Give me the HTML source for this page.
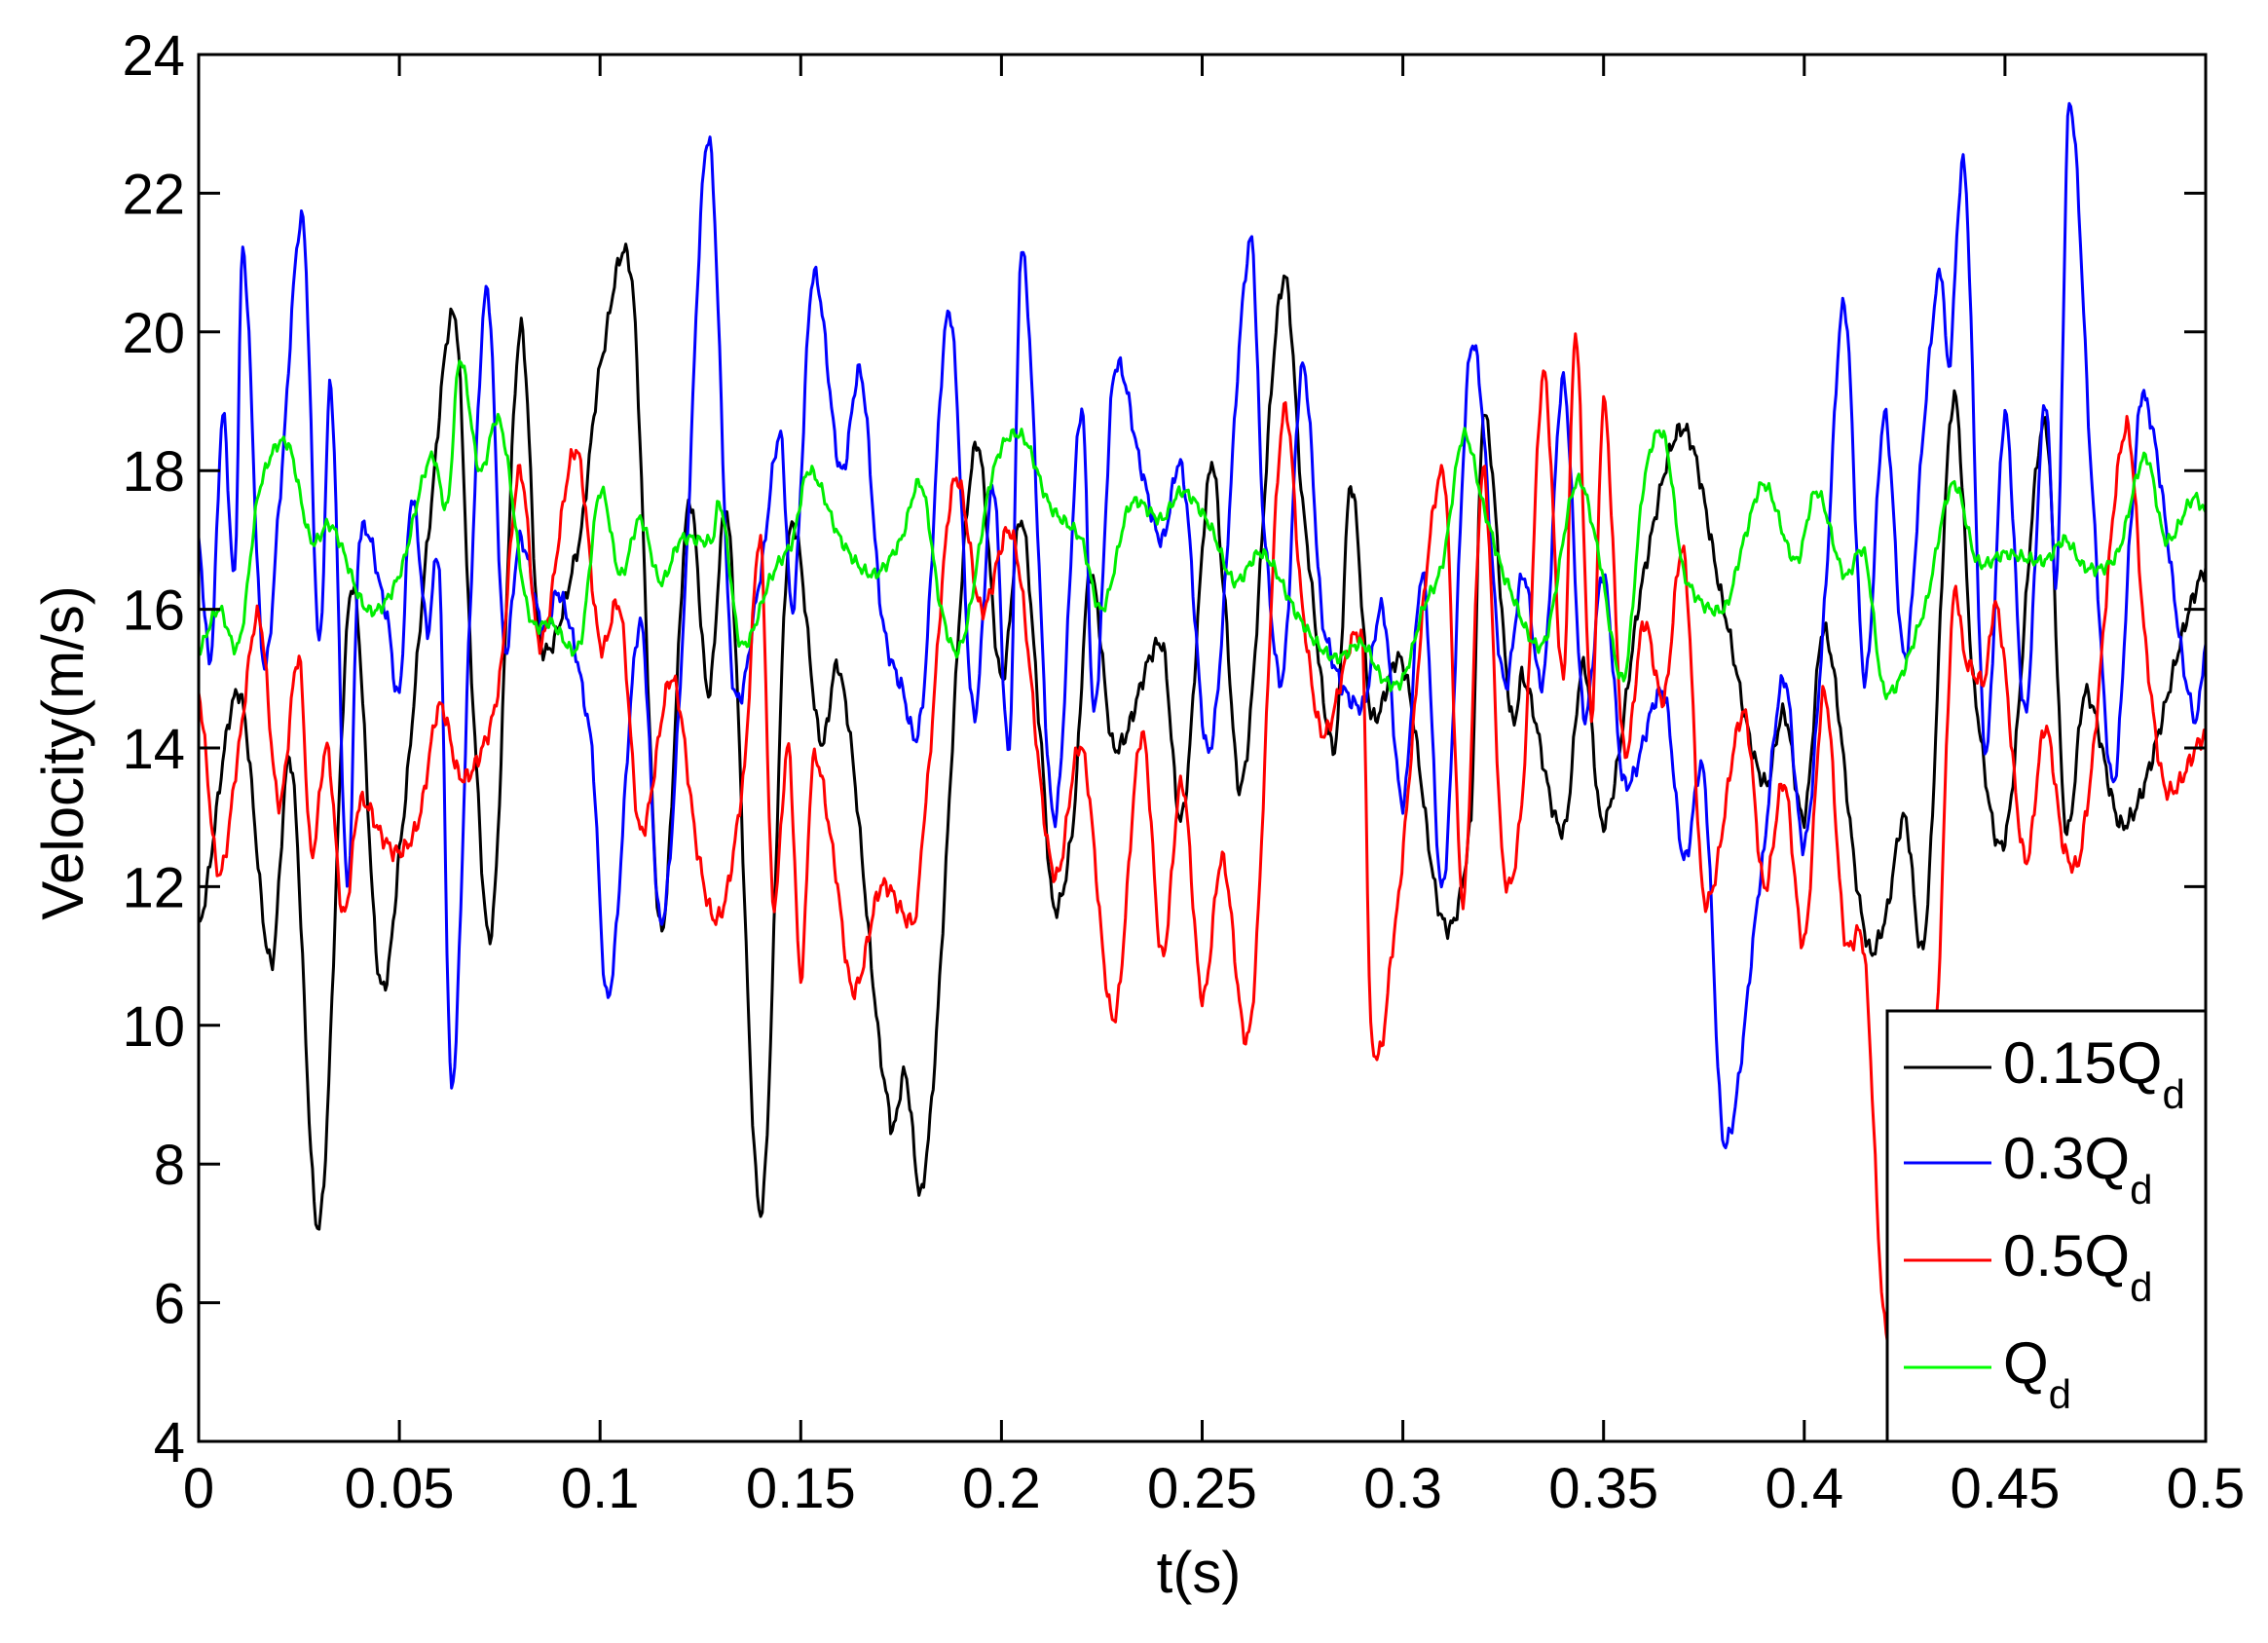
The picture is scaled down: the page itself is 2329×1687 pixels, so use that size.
<!DOCTYPE html>
<html><head><meta charset="utf-8"><style>
html,body{margin:0;padding:0;background:#fff;}
svg{display:block;font-family:"Liberation Sans",Arial,sans-serif;}
</style></head><body>
<svg id="s" width="2329" height="1687" viewBox="0 0 2329 1687" xmlns="http://www.w3.org/2000/svg">
<rect width="2329" height="1687" fill="#fff"/>
<g id="series" fill="none" stroke-width="3" stroke-linejoin="round"></g>
<g id="axes" stroke="#000" stroke-width="3" fill="none"></g>
<g id="labels" font-size="58" fill="#000"></g>
<text x="1231" y="1635" font-size="60" text-anchor="middle">t(s)</text>
<text transform="translate(85,773) rotate(-90)" font-size="60" text-anchor="middle">Velocity(m/s)</text>
<g id="legend">
<rect x="1938" y="1038" width="327" height="442" fill="#fff" stroke="#000" stroke-width="3"/>
<line x1="1955" y1="1096" x2="2045" y2="1096" stroke="#000" stroke-width="3"/>
<line x1="1955" y1="1194" x2="2045" y2="1194" stroke="#0000ff" stroke-width="3"/>
<line x1="1955" y1="1294" x2="2045" y2="1294" stroke="#ff0000" stroke-width="3"/>
<line x1="1955" y1="1404" x2="2045" y2="1404" stroke="#00ff00" stroke-width="3"/>
<text x="2057" y="1112" font-size="60">0.15Q<tspan font-size="42" dy="26">d</tspan></text>
<text x="2057" y="1210" font-size="60">0.3Q<tspan font-size="42" dy="26">d</tspan></text>
<text x="2057" y="1310" font-size="60">0.5Q<tspan font-size="42" dy="26">d</tspan></text>
<text x="2057" y="1420" font-size="60">Q<tspan font-size="42" dy="26">d</tspan></text>
</g>
</svg>
<script>
var L=204,R=2265,T=56,B=1480;
function X(t){return L+t*(R-L)/0.5;}
function Y(v){return B-(v-4)*(B-T)/20;}
var NS="http://www.w3.org/2000/svg";
var ax=document.getElementById('axes'), lab=document.getElementById('labels');
function el(p,n,a){var e=document.createElementNS(NS,n);for(var k in a)e.setAttribute(k,a[k]);p.appendChild(e);return e;}
el(ax,'rect',{x:L,y:T,width:R-L,height:B-T});
for(var v=4;v<=24;v+=2){var y=Y(v);
 el(ax,'line',{x1:L,y1:y,x2:L+22,y2:y});el(ax,'line',{x1:R,y1:y,x2:R-22,y2:y});
 var t=el(lab,'text',{x:190,y:y+21,'text-anchor':'end'});t.textContent=v;}
for(var i=0;i<=10;i++){var x=X(i*0.05);
 el(ax,'line',{x1:x,y1:B,x2:x,y2:B-22});el(ax,'line',{x1:x,y1:T,x2:x,y2:T+22});
 var t=el(lab,'text',{x:x,y:1548,'text-anchor':'middle'});t.textContent=(i==0?'0':(i==10?'0.5':String(+(i*0.05).toFixed(2))));}
function P(a){var r=[];for(var i=0;i<a.length;i+=2)r.push([a[i],a[i+1]]);return r;}
var black=P([0,11.4,.01,14.8,.018,10.9,.023,13.8,.03,7.1,.038,16.3,.045,10.7,.05,12.5,.058,17.5,.064,20.2,.068,15,.073,11.4,.08,20,.085,15.5,.095,17,.1,19.5,.108,20.7,.115,11.4,.122,17.5,.127,14.8,.132,17.2,.14,7.3,.147,17,.155,14.1,.16,15,.172,8.8,.176,9.3,.181,8,.193,18.2,.2,15,.205,17.3,.21,14,.213,11.7,.218,13,.222,16.5,.228,14,.24,15.5,.245,13,.252,18,.255,16.5,.26,13.5,.27,20.7,.275,17.5,.283,14,.287,17.8,.292,14.5,.3,15.2,.31,11.5,.317,13,.32,18.8,.327,14.5,.33,15,.34,12.8,.345,15.2,.35,12.9,.36,16.5,.37,18.6,.38,16,.39,13.5,.395,14.5,.4,13,.405,15.7,.415,11.4,.42,11.5,.425,13,.43,11.3,.437,19,.442,15,.45,12.7,.46,18.7,.465,12.9,.47,14.8,.48,12.9,.5,16.6]);
var blue=P([0,17,.003,15.3,.006,18.8,.009,16.5,.011,21.2,.016,15.3,.02,17.5,.026,21.6,.03,15.5,.033,19.2,.037,12,.04,17,.047,15.9,.05,14.8,.053,17.6,.057,15.7,.06,16.5,.063,9.1,.068,16.5,.072,20.6,.076,15.5,.08,17,.086,15.7,.09,16.2,.098,14,.102,10.4,.11,15.8,.115,11.5,.12,15,.127,22.8,.133,15,.14,16.5,.145,18.5,.148,16,.153,20.8,.16,18,.165,19.4,.17,16,.175,14.9,.18,14.5,.187,20.3,.193,14.5,.198,17.8,.202,14,.205,21.2,.213,13,.22,18.9,.223,14.5,.228,19.4,.235,18,.24,17,.245,18,.252,14,.262,21.3,.265,17.5,.27,15,.275,19.5,.28,15.8,.29,14.6,.295,16,.3,13.2,.305,16.5,.31,12,.317,19.8,.325,15,.33,16.5,.335,15,.34,19.3,.345,14.5,.35,16.5,.355,13.5,.365,14.8,.37,12.4,.375,13.6,.38,8.3,.39,12.5,.395,15,.4,12.6,.405,16,.41,20.4,.415,15,.42,18.8,.425,15.3,.43,18.8,.434,20.9,.436,19.5,.44,22.3,.445,14,.45,18.8,.455,14.5,.46,19,.463,16.5,.466,23.3,.472,17.5,.477,13.5,.482,17.7,.485,19,.497,14.5,.5,15.5]);
var red=P([0,14.8,.005,12.2,.01,14,.015,15.9,.02,13.2,.025,15.3,.028,12.5,.032,14,.036,11.6,.04,13.2,.046,12.7,.05,12.5,.055,13,.06,14.6,.065,13.6,.07,13.9,.075,15,.08,18,.085,15.5,.094,18.3,.1,15.5,.105,16,.11,12.8,.118,15,.125,12.3,.13,11.6,.136,13.7,.14,17,.143,11.8,.147,14,.15,10.7,.153,13.8,.158,12.5,.163,10.5,.17,12,.178,11.5,.18,12.6,.188,17.8,.195,16,.203,17,.213,12.2,.22,14,.228,10.1,.235,14.2,.24,11,.245,13.5,.25,10.4,.255,12.4,.262,10,.27,18.7,.275,16,.28,14.2,.29,15.5,.292,9.9,.297,11,.31,18,.315,11.8,.32,18,.325,12.3,.33,13.5,.335,19.4,.34,15,.343,20,.347,14.5,.35,19,.355,14,.36,15.8,.365,14.7,.37,16.8,.375,11.8,.385,14.5,.39,12,.395,13.5,.4,11.2,.405,14.8,.41,11.3,.415,11,.42,5.7,.426,7,.433,10,.437,16,.44,15.3,.445,15,.448,16,.455,12.4,.46,14.3,.465,12.5,.47,13,.48,18.6,.485,15.5,.49,13.4,.5,14.2]);
var green=P([0,15.4,.005,16,.01,15.5,.015,17.7,.022,18.4,.028,17,.033,17.2,.042,16,.05,16.5,.058,18.2,.062,17.5,.065,19.6,.07,18,.075,18.7,.082,16,.088,15.8,.095,15.5,.1,17.7,.105,16.5,.11,17.3,.115,16.4,.12,17,.128,17,.13,17.5,.135,15.5,.143,16.5,.148,17,.152,18,.16,17,.168,16.5,.175,17,.18,17.8,.185,16,.19,15.5,.198,18,.205,18.5,.212,17.5,.22,17,.225,16,.232,17.5,.24,17.3,.245,17.7,.252,17.2,.258,16.4,.265,16.8,.275,15.8,.283,15.3,.29,15.5,.295,15,.3,15,.305,16,.31,16.7,.315,18.5,.32,17.5,.325,16.5,.335,15.5,.343,17.8,.348,17,.355,15,.36,17.8,.365,18.5,.37,16.5,.38,16,.385,17,.39,17.8,.398,16.7,.403,17.7,.41,16.5,.415,16.8,.42,14.8,.43,16,.437,17.8,.443,16.7,.45,16.8,.46,16.7,.465,17,.47,16.6,.478,16.8,.485,18.2,.49,17,.497,17.6,.5,17.4]);
function path(pts,amp,seed){
 var d='',n=pts.length;
 for(var i=0;i<n-1;i++){
  var p0=pts[Math.max(0,i-1)],p1=pts[i],p2=pts[i+1],p3=pts[Math.min(n-1,i+2)];
  var steps=Math.max(2,Math.round((p2[0]-p1[0])/0.0004));
  for(var s=0;s<steps;s++){
   var u=s/steps,u2=u*u,u3=u2*u;
   var t=p1[0]+(p2[0]-p1[0])*u;
   var v=0.5*((2*p1[1])+(-p0[1]+p2[1])*u+(2*p0[1]-5*p1[1]+4*p2[1]-p3[1])*u2+(-p0[1]+3*p1[1]-3*p2[1]+p3[1])*u3);
   v+=amp*(Math.sin(t*2900+seed)*0.6+Math.sin(t*5300+seed*2)*0.4);
   d+=(d?'L':'M')+X(t).toFixed(1)+' '+Y(v).toFixed(1);
  }
 }
 var last=pts[n-1];d+='L'+X(last[0]).toFixed(1)+' '+Y(last[1]).toFixed(1);
 return d;
}
var g=document.getElementById('series');
el(g,'path',{d:path(black,0.15,1),stroke:'#000000'});
el(g,'path',{d:path(blue,0.15,2),stroke:'#0000ff'});
el(g,'path',{d:path(red,0.15,3),stroke:'#ff0000'});
el(g,'path',{d:path(green,0.1,4),stroke:'#00ee00'});
</script>
</body></html>
